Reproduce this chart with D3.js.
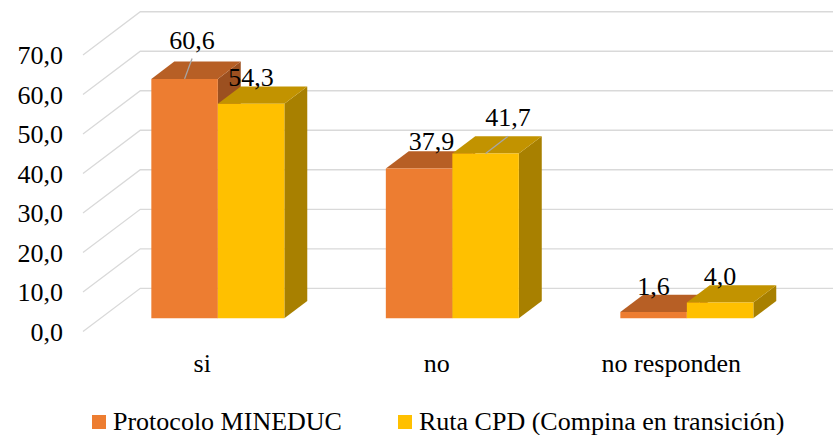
<!DOCTYPE html>
<html>
<head>
<meta charset="utf-8">
<script src="https://cdn.jsdelivr.net/npm/d3@7"></script>
</head>
<body style="margin:0">
<svg id="chart" width="833" height="435" font-family="Times New Roman"></svg>
<script>
// chart data
const CATEGORIES = ["si", "no", "no responden"];
const SERIES = ["Protocolo MINEDUC", "Ruta CPD (Compina en transición)"];
const PROTOCOLO = [60.6, 37.9, 1.6];
const RUTA = [54.3, 41.7, 4.0];
const Y_TICKS = [0, 10, 20, 30, 40, 50, 60, 70];

// frame constants
const FRAME_WIDTH = 833;
const FRAME_HEIGHT = 435;
const FONT = 26;
const FONT_FAMILY = "Times New Roman";

// 3d projection: front plane + depth offset
const DEPTH_X = 57.3;
const DEPTH_Y = 43.3;
const BAR_T0 = 0.307;   // bar front face depth
const BAR_T1 = 0.707;   // bar back face depth

const COLORS = {
  front: ["#ED7D31", "#FFC000"],
  top:   ["#B75F25", "#C29300"],
  side:  ["#9C5020", "#A88000"]
};

// manual nudges for labels excel moved (dx, dy, leader line)
const LABEL_NUDGE = {
  "0-0": [7.5, -13, true],
  "1-0": [12.5, -1, false],
  "1-1": [22.5, -10, true]
};

const fmt = d3.formatLocale({decimal: ",", thousands: ".", grouping: [3], currency: ["", ""]}).format(".1f");

const FRAME = d3.select("#chart");

// text helper
function addText(g, x, y, str, anchor) {
  return g.append("text")
    .attr("x", x)
    .attr("y", y)
    .attr("text-anchor", anchor)
    .attr("font-family", FONT_FAMILY)
    .attr("font-size", FONT)
    .text(str);
}

// scales
const X_SCALE = d3.scaleBand()
  .domain(CATEGORIES)
  .range([83, 786.5]);

const S_SCALE = d3.scaleBand()
  .domain(SERIES)
  .range([0, X_SCALE.bandwidth()])
  .paddingInner(0)
  .paddingOuter(0.763);

const Y_SCALE = d3.scaleLinear()
  .domain([0, 70])
  .range([331.6, 331.6 - 70 * 3.951]);

// project front-plane point (x, value) to depth t
function P(x, v, t) {
  return [x + DEPTH_X * t, Y_SCALE(v) - DEPTH_Y * t];
}

function poly(pts) {
  return pts.map(p => p.join(",")).join(" ");
}

// gridlines: side wall diagonals + back wall horizontals
const grid = FRAME.append("g").attr("stroke", "#D9D9D9").attr("stroke-width", 1.3).attr("fill", "none");
Y_TICKS.forEach(v => {
  const a = P(83, v, 0), b = P(83, v, 1), c = P(FRAME_WIDTH + 20, v, 1);
  grid.append("polyline").attr("points", poly([a, b, c]));
});

// y axis labels
const yAxis = FRAME.append("g");
Y_TICKS.forEach(v => addText(yAxis, 63, Y_SCALE(v) + 9, fmt(v), "end"));

// build bar list left to right
const bars = [];
CATEGORIES.forEach((c, i) => {
  [PROTOCOLO, RUTA].forEach((vals, s) => {
    bars.push({cat: c, ci: i, si: s, value: vals[i],
      x0: X_SCALE(c) + S_SCALE(SERIES[s]),
      x1: X_SCALE(c) + S_SCALE(SERIES[s]) + S_SCALE.bandwidth()});
  });
});

const barG = FRAME.append("g");
bars.forEach(d => {
  const g = barG.append("g");
  // side face
  g.append("polygon")
    .attr("points", poly([P(d.x1, 0, BAR_T0), P(d.x1, 0, BAR_T1), P(d.x1, d.value, BAR_T1), P(d.x1, d.value, BAR_T0)]))
    .attr("fill", COLORS.side[d.si]);
  // top face
  g.append("polygon")
    .attr("points", poly([P(d.x0, d.value, BAR_T0), P(d.x1, d.value, BAR_T0), P(d.x1, d.value, BAR_T1), P(d.x0, d.value, BAR_T1)]))
    .attr("fill", COLORS.top[d.si]);
  // front face
  g.append("polygon")
    .attr("points", poly([P(d.x0, 0, BAR_T0), P(d.x1, 0, BAR_T0), P(d.x1, d.value, BAR_T0), P(d.x0, d.value, BAR_T0)]))
    .attr("fill", COLORS.front[d.si]);
});

// data labels
const lab = FRAME.append("g");
bars.forEach(d => {
  const frontTop = P((d.x0 + d.x1) / 2, d.value, BAR_T0);
  const backTop = P((d.x0 + d.x1) / 2, d.value, BAR_T1);
  const nudge = LABEL_NUDGE[d.ci + "-" + d.si] || [0, 0, false];
  const lx = frontTop[0] + nudge[0];
  const ly = backTop[1] + nudge[1];
  if (nudge[2]) {
    lab.append("line")
      .attr("x1", lx).attr("y1", ly + 10)
      .attr("x2", frontTop[0]).attr("y2", frontTop[1])
      .attr("stroke", "#A6A6A6").attr("stroke-width", 1.3);
  }
  addText(lab, lx, ly, fmt(d.value), "middle");
});

// category labels
const xAxis = FRAME.append("g");
CATEGORIES.forEach(c => addText(xAxis, X_SCALE(c) + X_SCALE.bandwidth() / 2 + 2, 372, c, "middle"));

// legend
const LEGEND_X = [92, 398];
const legend = FRAME.append("g");
SERIES.forEach((s, i) => {
  legend.append("rect")
    .attr("x", LEGEND_X[i]).attr("y", 415)
    .attr("width", 14).attr("height", 14)
    .attr("fill", COLORS.front[i]);
  addText(legend, LEGEND_X[i] + 21, 430, s, "start");
});
</script>
</body>
</html>
